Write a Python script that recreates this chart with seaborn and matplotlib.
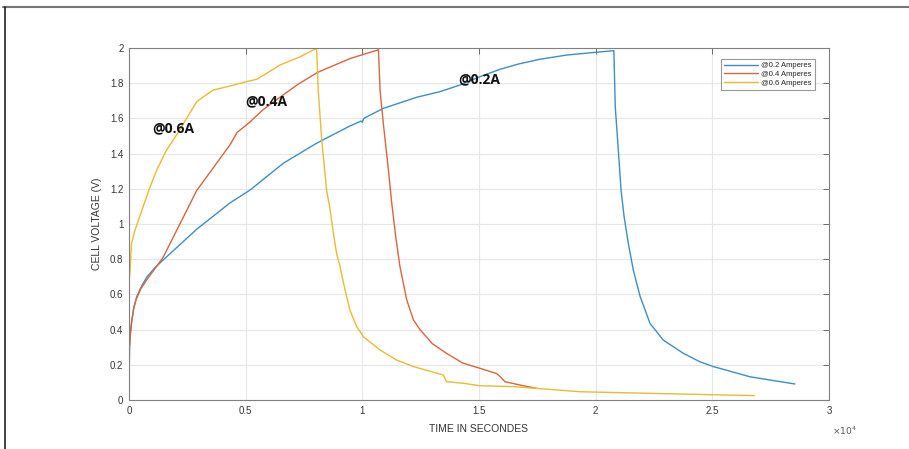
import numpy as np
import pandas as pd
import matplotlib
matplotlib.use("Agg")
import matplotlib.pyplot as plt
import seaborn as sns
from matplotlib.lines import Line2D

# ---- data (time in units of 1e4 s, voltage in V) ----
t_02 = [0, 0.002, 0.006, 0.012, 0.02, 0.034, 0.055, 0.077, 0.11, 0.146, 0.29, 0.433, 0.519, 0.661,
        0.804, 0.947, 0.995, 1.0, 1.006, 1.09, 1.233, 1.333, 1.419, 1.504, 1.59, 1.669, 1.761,
        1.876, 2.004, 2.078, 2.084, 2.097, 2.109, 2.122, 2.140, 2.161, 2.190, 2.233, 2.290,
        2.376, 2.447, 2.504, 2.661, 2.854]
v_02 = [0, 0.30, 0.38, 0.45, 0.52, 0.59, 0.65, 0.70, 0.75, 0.795, 0.97, 1.12, 1.193, 1.345,
        1.459, 1.557, 1.585, 1.578, 1.60, 1.657, 1.72, 1.752, 1.79, 1.837, 1.879, 1.909, 1.936,
        1.96, 1.976, 1.985, 1.666, 1.42, 1.19, 1.04, 0.89, 0.74, 0.59, 0.435, 0.34,
        0.265, 0.217, 0.19, 0.132, 0.091]

t_04 = [0, 0.002, 0.006, 0.012, 0.02, 0.03, 0.05, 0.08, 0.146, 0.29, 0.433, 0.463, 0.519, 0.575,
        0.647, 0.72, 0.806, 0.947, 1.069, 1.076, 1.090, 1.110, 1.125, 1.143, 1.161, 1.19, 1.219,
        1.247, 1.30, 1.361, 1.43, 1.504, 1.576, 1.593, 1.611, 1.676, 1.747]
v_04 = [0, 0.30, 0.38, 0.45, 0.52, 0.57, 0.63, 0.69, 0.81, 1.19, 1.45, 1.52, 1.58, 1.65,
        1.72, 1.79, 1.86, 1.94, 1.99, 1.76, 1.57, 1.33, 1.13, 0.93, 0.76, 0.57, 0.455,
        0.40, 0.32, 0.265, 0.21, 0.18, 0.15, 0.13, 0.104, 0.085, 0.066]

t_06 = [0, 0.004, 0.007, 0.011, 0.026, 0.04, 0.061, 0.09, 0.119, 0.161, 0.204, 0.247, 0.29,
        0.319, 0.361, 0.433, 0.504, 0.547, 0.59, 0.647, 0.733, 0.804, 0.811, 0.826, 0.847, 0.861,
        0.876, 0.89, 0.904, 0.926, 0.947, 0.976, 1.004, 1.076, 1.147, 1.219, 1.347, 1.361, 1.433,
        1.504, 1.647, 1.933, 2.36, 2.68]
v_06 = [0.68, 0.72, 0.795, 0.89, 0.966, 1.02, 1.10, 1.21, 1.307, 1.42, 1.506, 1.60, 1.695,
        1.723, 1.761, 1.784, 1.809, 1.822, 1.856, 1.903, 1.95, 1.998, 1.76, 1.477, 1.19, 1.09,
        0.947, 0.83, 0.76, 0.625, 0.51, 0.417, 0.36, 0.284, 0.227, 0.19, 0.142, 0.104, 0.095,
        0.081, 0.076, 0.047, 0.034, 0.025]

series_names = ["@0.2 Amperes", "@0.4 Amperes", "@0.6 Amperes"]
labels_text = ["@0.6A", "@0.4A", "@0.2A"]
label_pos = [(0.10, 1.545), (0.50, 1.70), (1.41, 1.82)]
x_ticks = [0, 0.5, 1, 1.5, 2, 2.5, 3]
y_ticks = [0, 0.2, 0.4, 0.6, 0.8, 1, 1.2, 1.4, 1.6, 1.8, 2]

df = pd.concat([
    pd.DataFrame({"t": t_02, "v": v_02, "series": series_names[0]}),
    pd.DataFrame({"t": t_04, "v": v_04, "series": series_names[1]}),
    pd.DataFrame({"t": t_06, "v": v_06, "series": series_names[2]}),
], ignore_index=True)

sns.set_theme(style="white")
plt.rcParams['font.family'] = ['Liberation Sans', 'DejaVu Sans']

fig = plt.figure(figsize=(9.09, 4.49), dpi=100)
ax = fig.add_axes([129/909, 49/449, 700/909, 352/449])

palette = {series_names[0]: "#3a8fc4", series_names[1]: "#d9653a", series_names[2]: "#e9bb30"}
sns.lineplot(data=df, x="t", y="v", hue="series", hue_order=series_names, palette=palette,
             sort=False, estimator=None, linewidth=1.0, ax=ax)

ax.set_xlim(0, 3)
ax.set_ylim(0, 2)
ax.set_xticks(x_ticks)
ax.set_xticklabels([f"{v:g}" for v in x_ticks])
ax.set_yticks(y_ticks)
ax.set_yticklabels([f"{v:g}" for v in y_ticks])
ax.grid(True, color="#e6e6e6", linewidth=0.8)
ax.tick_params(direction="in", length=4, width=0.6, colors="#555555", labelsize=7,
               top=True, right=True, labelcolor="#333333", pad=4)
for s in ax.spines.values():
    s.set_color("#808080")
    s.set_linewidth(0.8)

ax.set_xlabel("TIME IN SECONDES", fontsize=7.5, color="#333333", labelpad=6)
ax.set_ylabel("CELL VOLTAGE (V)", fontsize=7.5, color="#333333", labelpad=6)
ax.text(1.005, -0.07, r"$\times10^4$", transform=ax.transAxes, fontsize=6.5,
        color="#555555", ha="left", va="top")

for txt, (x, y) in zip(labels_text, label_pos):
    ax.text(x, y, txt, fontsize=10, fontweight="bold", family="Open Sans",
            color="#111111", ha="left", va="center")

leg = ax.legend(title=None, loc="upper right", fontsize=5.5, frameon=True, fancybox=False,
                handlelength=4.5, borderpad=0.4, labelspacing=0.2, handletextpad=0.4,
                bbox_to_anchor=(0.985, 0.98))
leg.get_frame().set_edgecolor("#808080")
leg.get_frame().set_linewidth(0.8)

# outer frame lines
fig.add_artist(Line2D([3/909, 1], [1 - 7/449, 1 - 7/449], color="#777777", linewidth=1.5,
                      transform=fig.transFigure))
fig.add_artist(Line2D([5/909, 5/909], [0, 1 - 7/449], color="#222222", linewidth=1.2,
                      transform=fig.transFigure))

fig.savefig("out.png", dpi=100)
